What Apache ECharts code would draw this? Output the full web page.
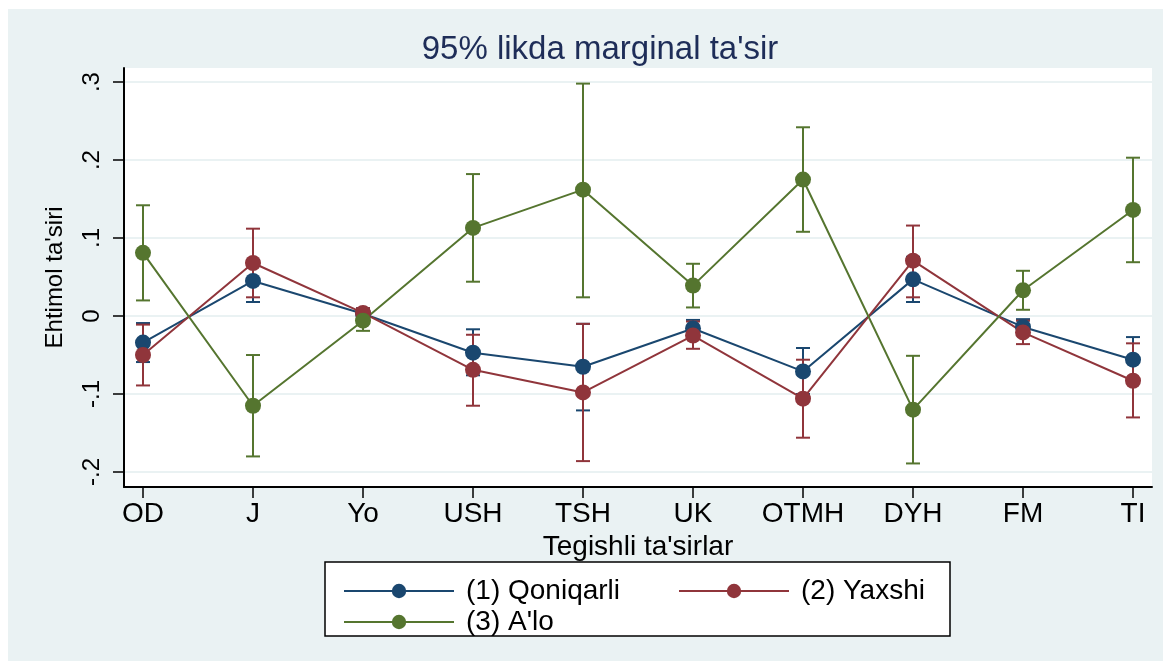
<!DOCTYPE html>
<html lang="uz">
<head>
    <meta charset="UTF-8">
    <title>95% likda marginal ta'sir</title>
    <script src="https://cdn.jsdelivr.net/npm/echarts@6/dist/echarts.min.js"></script>
    <style>
        html, body { margin: 0; padding: 0; background: #fff; }
        #chart { width: 1163px; height: 661px; }
    </style>
</head>
<body>
<div id="chart"></div>
<script type="text/javascript">
    var categories = ['OD', 'J', 'Yo', 'USH', 'TSH', 'UK', 'OTMH', 'DYH', 'FM', 'TI'];
    var yTicks = [-0.2, -0.1, 0, 0.1, 0.2, 0.3];
    var yTickLabels = ['-.2', '-.1', '0', '.1', '.2', '.3'];

    // (1) Qoniqarli
    var qoniqarli   = [-0.034, 0.045, 0.003, -0.047, -0.065, -0.016, -0.071, 0.047, -0.014, -0.056];
    var qoniqarliLo = [-0.059, 0.018, -0.004, -0.076, -0.121, -0.027, -0.100, 0.018, -0.022, -0.084];
    var qoniqarliHi = [-0.009, 0.072, 0.010, -0.017, -0.010, -0.005, -0.041, 0.076, -0.004, -0.027];
    // (2) Yaxshi
    var yaxshi   = [-0.050, 0.068, 0.004, -0.069, -0.098, -0.025, -0.106, 0.071, -0.021, -0.083];
    var yaxshiLo = [-0.089, 0.024, -0.002, -0.115, -0.186, -0.042, -0.156, 0.024, -0.036, -0.130];
    var yaxshiHi = [-0.011, 0.112, 0.010, -0.024, -0.010, -0.007, -0.056, 0.116, -0.006, -0.035];
    // (3) A'lo
    var alo   = [0.081, -0.115, -0.006, 0.113, 0.162, 0.039, 0.175, -0.120, 0.033, 0.136];
    var aloLo = [0.020, -0.180, -0.019, 0.044, 0.024, 0.011, 0.108, -0.189, 0.008, 0.069];
    var aloHi = [0.142, -0.050, 0.007, 0.182, 0.298, 0.067, 0.242, -0.051, 0.058, 0.203];

    var names = ['(1) Qoniqarli', '(2) Yaxshi', "(3) A'lo"];
    var colors = ['#1a476f', '#90353b', '#55752f'];
    var means = [qoniqarli, yaxshi, alo];
    var lows = [qoniqarliLo, yaxshiLo, aloLo];
    var highs = [qoniqarliHi, yaxshiHi, aloHi];

    var font = 'Liberation Sans, Arial, sans-serif';

    // confidence interval caps (drawn under the lines)
    function capSeries(k) {
        var d = [];
        for (var i = 0; i < categories.length; i++) {
            d.push([i, lows[k][i], highs[k][i]]);
        }
        return {
            type: 'custom',
            name: names[k] + ' CI',
            z: 2,
            silent: true,
            encode: {x: 0, y: [1, 2]},
            data: d,
            renderItem: function (params, api) {
                var top = api.coord([api.value(0), api.value(2)]);
                var bot = api.coord([api.value(0), api.value(1)]);
                var w = 7;
                var st = {stroke: colors[k], lineWidth: 2};
                return {
                    type: 'group',
                    children: [
                        {type: 'line', shape: {x1: top[0], y1: top[1], x2: bot[0], y2: bot[1]}, style: st},
                        {type: 'line', shape: {x1: top[0] - w, y1: top[1], x2: top[0] + w, y2: top[1]}, style: st},
                        {type: 'line', shape: {x1: bot[0] - w, y1: bot[1], x2: bot[0] + w, y2: bot[1]}, style: st}
                    ]
                };
            }
        };
    }

    function lineSeries(k) {
        var d = [];
        for (var i = 0; i < categories.length; i++) {
            d.push([i, means[k][i]]);
        }
        return {
            type: 'line',
            name: names[k],
            z: 3,
            data: d,
            symbol: 'circle',
            symbolSize: 16,
            color: colors[k],
            lineStyle: {color: colors[k], width: 2},
            itemStyle: {color: colors[k]}
        };
    }

    var series = [capSeries(0), capSeries(1), capSeries(2), lineSeries(0), lineSeries(1), lineSeries(2)];

    var legendCommon = {
        orient: 'horizontal',
        itemWidth: 110,
        itemHeight: 18,
        selectedMode: false,
        textStyle: {fontSize: 28, color: '#000', fontFamily: font, padding: [0, 0, 0, 7]}
    };

    var myChart = echarts.init(document.getElementById('chart'));
    var option = {
        animation: false,
        backgroundColor: '#fff',
        graphic: [
            {type: 'rect', z: -10, shape: {x: 8, y: 9, width: 1155, height: 652}, style: {fill: '#eaf2f3'}},
            {type: 'rect', z: -5, shape: {x: 325, y: 562, width: 625, height: 74},
                style: {fill: '#fff', stroke: '#000', lineWidth: 1.5}}
        ],
        title: {
            text: "95% likda marginal ta'sir",
            left: 595,
            textAlign: 'center',
            top: 28,
            textStyle: {fontSize: 33, fontWeight: 'normal', color: '#1e2d58', fontFamily: font}
        },
        legend: [
            Object.assign({data: [names[0]], left: 338, top: 572}, legendCommon),
            Object.assign({data: [names[1]], left: 673, top: 572}, legendCommon),
            Object.assign({data: [names[2]], left: 338, top: 603}, legendCommon)
        ],
        grid: {
            left: 124, top: 68, width: 1028, height: 419,
            show: true, backgroundColor: '#fff', borderWidth: 0
        },
        xAxis: {
            type: 'value',
            min: -0.1727,
            max: 9.1727,
            name: "Tegishli ta'sirlar",
            nameLocation: 'middle',
            nameGap: 35,
            nameTextStyle: {fontSize: 28, color: '#000', fontFamily: font},
            axisLine: {show: true, onZero: false, lineStyle: {color: '#000', width: 2}},
            axisTick: {show: true, length: 11, customValues: [0, 1, 2, 3, 4, 5, 6, 7, 8, 9],
                lineStyle: {color: '#000', width: 1.5}},
            axisLabel: {
                customValues: [0, 1, 2, 3, 4, 5, 6, 7, 8, 9],
                fontSize: 28, color: '#000', fontFamily: font, margin: 13,
                formatter: function (v) { return categories[Math.round(v)]; }
            },
            splitLine: {show: false}
        },
        yAxis: {
            type: 'value',
            min: -0.2192,
            max: 0.318,
            name: "Ehtimol ta'siri",
            nameLocation: 'middle',
            nameGap: 57,
            nameRotate: 90,
            nameTextStyle: {fontSize: 24, color: '#000', fontFamily: font},
            axisLine: {show: true, onZero: false, lineStyle: {color: '#000', width: 2}},
            axisTick: {show: true, length: 11, customValues: yTicks,
                lineStyle: {color: '#000', width: 1.5}},
            axisLabel: {
                customValues: yTicks,
                rotate: 90,
                fontSize: 24, color: '#000', fontFamily: font, margin: 20,
                formatter: function (v) {
                    for (var i = 0; i < yTicks.length; i++) {
                        if (Math.abs(yTicks[i] - v) < 1e-6) return yTickLabels[i];
                    }
                    return '';
                }
            },
            splitLine: {show: true, lineStyle: {color: '#eaf2f3', width: 2}}
        },
        series: series
    };
    myChart.setOption(option);
</script>
</body>
</html>
